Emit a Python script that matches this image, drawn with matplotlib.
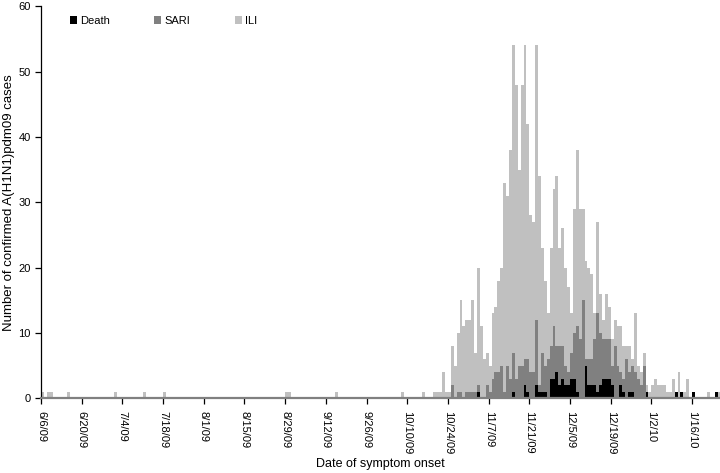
import datetime as dt

import numpy as np
import matplotlib
matplotlib.use("Agg")
import matplotlib.pyplot as plt
import matplotlib.dates as mdates

plt.rcParams["font.family"] = ["Liberation Sans", "DejaVu Sans"]

# isolated ILI cases before the epidemic wave (1 case each)
early_ili_dates = ["2009-06-06", "2009-06-08", "2009-06-09", "2009-06-15",
                   "2009-07-01", "2009-07-11", "2009-07-18", "2009-08-29",
                   "2009-08-30", "2009-09-15", "2009-10-08", "2009-10-15"]

# daily counts from 10/19/09 to 1/25/10, one row per week
wave_start = "2009-10-19"
death = [0, 0, 0, 0, 0, 0, 0,
         0, 0, 0, 0, 0, 0, 0,
         0, 1, 0, 0, 0, 0, 0,
         0, 0, 0, 0, 0, 0, 1,
         0, 0, 0, 2, 1, 0, 0,
         2, 1, 1, 1, 0, 3, 3,
         4, 2, 3, 2, 2, 3, 3,
         1, 0, 0, 5, 2, 2, 2,
         1, 2, 3, 3, 3, 2, 0,
         0, 2, 1, 0, 1, 1, 0,
         0, 0, 0, 1, 0, 0, 0,
         0, 0, 0, 0, 0, 0, 1,
         0, 1, 0, 0, 0, 1, 0,
         0, 0, 0, 0, 0, 0, 1,
         0]
sari = [0, 0, 0, 0, 0, 0, 2,
        0, 1, 1, 0, 1, 1, 1,
        1, 1, 0, 0, 2, 1, 3,
        4, 4, 5, 1, 5, 3, 6,
        3, 5, 5, 4, 5, 4, 4,
        10, 1, 6, 4, 6, 5, 8,
        4, 6, 5, 3, 2, 4, 7,
        10, 9, 15, 1, 4, 4, 7,
        12, 8, 6, 6, 6, 3, 8,
        5, 2, 2, 6, 3, 4, 4,
        3, 2, 5, 0, 0, 0, 0,
        0, 0, 0, 0, 0, 0, 0,
        0, 0, 0, 0, 0, 0, 0,
        0, 0, 0, 0, 0, 0, 0,
        0]
ili = [1, 1, 1, 4, 1, 1, 6,
       5, 9, 14, 11, 11, 11, 14,
       6, 18, 11, 6, 5, 4, 10,
       10, 14, 15, 32, 26, 35, 47,
       45, 30, 43, 48, 36, 24, 23,
       42, 32, 16, 13, 7, 15, 21,
       26, 15, 18, 15, 13, 6, 19,
       27, 20, 14, 15, 14, 13, 4,
       14, 6, 3, 7, 5, 4, 4,
       6, 7, 5, 2, 4, 1, 9,
       2, 2, 2, 1, 1, 2, 3,
       2, 2, 2, 1, 1, 3, 0,
       4, 0, 1, 3, 0, 0, 0,
       0, 0, 0, 1, 0, 0, 0,
       1]

first_day = dt.date(2009, 6, 6)
n_ticks = 17

d0 = dt.datetime.fromisoformat(wave_start)
wave_x = mdates.date2num([d0 + dt.timedelta(days=i) for i in range(len(ili))])
early_x = mdates.date2num([dt.datetime.fromisoformat(s) for s in early_ili_dates])
death = np.array(death)
sari = np.array(sari)
ili = np.array(ili)

fig = plt.figure(figsize=(7.2, 4.73), dpi=100)
ax = fig.add_axes([0.057, 0.158, 0.943, 0.829])

c_death, c_sari, c_ili = "#000000", "#808080", "#c0c0c0"
ax.bar(early_x, np.ones(len(early_x)), width=1, align="edge", color=c_ili, linewidth=0)
ax.bar(wave_x, death, width=1, align="edge", color=c_death, linewidth=0, label="Death")
ax.bar(wave_x, sari, bottom=death, width=1, align="edge", color=c_sari, linewidth=0, label="SARI")
ax.bar(wave_x, ili, bottom=death + sari, width=1, align="edge", color=c_ili, linewidth=0, label="ILI")

x_left = mdates.date2num(first_day)
ax.set_xlim(x_left, x_left + 233.6)
ax.set_ylim(0, 60)
ax.set_yticks(range(0, 61, 10))

tick_days = [first_day + dt.timedelta(days=14 * k) for k in range(n_ticks)]
ax.set_xticks(mdates.date2num(tick_days))
ax.set_xticklabels([f"{d.month}/{d.day}/{d:%y}" for d in tick_days], rotation=270)

for s in ("top", "right"):
    ax.spines[s].set_visible(False)
ax.spines["bottom"].set_color("#808080")
ax.spines["bottom"].set_linewidth(1.6)
ax.spines["left"].set_linewidth(0.9)
ax.tick_params(axis="both", labelsize=8, length=4, width=0.9, direction="out")
ax.tick_params(axis="x", pad=5)

ax.set_xlabel("Date of symptom onset", fontsize=9)
ax.xaxis.set_label_coords(0.5, -0.153)
ax.set_ylabel("Number of confirmed A(H1N1)pdm09 cases", fontsize=9.5)
ax.yaxis.set_label_coords(-0.039, 0.5)

ax.legend(loc="upper left", bbox_to_anchor=(0.0427, 0.975), ncol=3, frameon=False,
          fontsize=8, handlelength=0.63, handleheight=0.63, handletextpad=0.27,
          columnspacing=4.0, borderpad=0, borderaxespad=0)

fig.savefig("out.png", dpi=100)
